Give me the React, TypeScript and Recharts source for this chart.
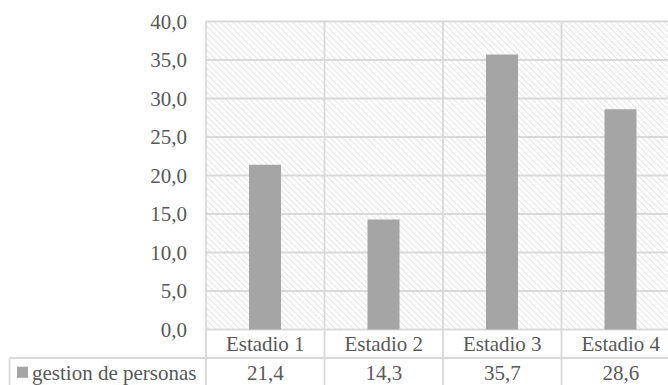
import React from 'react';
import { BarChart, Bar, XAxis, YAxis, CartesianGrid } from 'recharts';

const categories = ['Estadio 1', 'Estadio 2', 'Estadio 3', 'Estadio 4'];
const gestionDePersonas = [21.4, 14.3, 35.7, 28.6];
const seriesName = 'gestion de personas';
const yTicks = [0, 5, 10, 15, 20, 25, 30, 35, 40];

const data = categories.map((c, i) => ({ name: c, value: gestionDePersonas[i] }));

const CHART_W = 690;
const CHART_H = 385;
const MARGIN = { top: 21.5, right: 10, left: 0, bottom: 5.5 };
const Y_W = 206;
const X_H = 50;
const PLOT_W = CHART_W - MARGIN.left - MARGIN.right - Y_W;
const ROW_H = 28.5;
const TABLE_LEFT = 9.5;

const FONT = 'Liberation Serif';
const FS = 21;
const TEXT = '#595959';
const LINE = '#d9d9d9';
const BAR = '#a5a5a5';
const LW = 1.8;

const fmt = (v: number) => v.toFixed(1).replace('.', ',');

const txtStyle = { fontFamily: FONT, fontSize: FS };

const TableTick = (props: any) => {
  const { x, y, payload, index } = props;
  const band = PLOT_W / categories.length;
  const left = x - band / 2;
  const right = x + band / 2;
  const val = gestionDePersonas[index];
  return (
    <g>
      <line x1={left} x2={left} y1={MARGIN.top} y2={CHART_H} stroke={LINE} strokeWidth={LW} />
      {index === categories.length - 1 && (
        <line x1={right} x2={right} y1={MARGIN.top} y2={CHART_H} stroke={LINE} strokeWidth={LW} />
      )}
      <line x1={left} x2={right} y1={y + ROW_H} y2={y + ROW_H} stroke={LINE} strokeWidth={LW} />
      <text x={x} y={y + ROW_H / 2} dy="0.35em" textAnchor="middle" fill={TEXT} style={txtStyle}>
        {payload.value}
      </text>
      <text x={x} y={y + ROW_H * 1.5} dy="0.35em" textAnchor="middle" fill={TEXT} style={txtStyle}>
        {fmt(val)}
      </text>
      {index === 0 && (
        <g>
          <line x1={TABLE_LEFT} x2={left} y1={y + ROW_H} y2={y + ROW_H} stroke={LINE} strokeWidth={LW} />
          <line x1={TABLE_LEFT} x2={TABLE_LEFT} y1={y + ROW_H} y2={CHART_H} stroke={LINE} strokeWidth={LW} />
          <rect x={17} y={y + ROW_H * 1.5 - 5.5} width={11} height={11} fill={BAR} />
          <text x={32} y={y + ROW_H * 1.5} dy="0.35em" textAnchor="start" fill={TEXT} style={txtStyle}>
            {seriesName}
          </text>
        </g>
      )}
    </g>
  );
};

export default function App() {
  return (
    <div style={{ position: 'fixed', left: 0, top: 0, width: 668, height: 385, overflow: 'hidden', background: '#fff', fontFamily: FONT }}>
      <svg width={0} height={0} style={{ position: 'absolute' }}>
        <defs>
          <pattern id="hatch" patternUnits="userSpaceOnUse" width={4.24} height={10} patternTransform="rotate(-45)">
            <line x1={0} y1={0} x2={0} y2={10} stroke="#dadada" strokeWidth={1.4} />
          </pattern>
        </defs>
      </svg>
      <BarChart width={CHART_W} height={CHART_H} data={data} margin={MARGIN}>
        <CartesianGrid vertical={false} stroke={LINE} strokeWidth={LW} fill="url(#hatch)" />
        <YAxis
          width={Y_W}
          domain={[0, 40]}
          ticks={yTicks}
          interval={0}
          axisLine={false}
          tickLine={false}
          tickSize={0}
          tickMargin={19}
          tickFormatter={fmt}
          tick={{ fill: TEXT, fontSize: FS, fontFamily: FONT, style: txtStyle }}
        />
        <XAxis
          dataKey="name"
          height={X_H}
          axisLine={false}
          tickLine={false}
          tickSize={0}
          tickMargin={0}
          interval={0}
          tick={<TableTick />}
        />
        <Bar dataKey="value" fill={BAR} barSize={32} isAnimationActive={false} />
      </BarChart>
    </div>
  );
}
